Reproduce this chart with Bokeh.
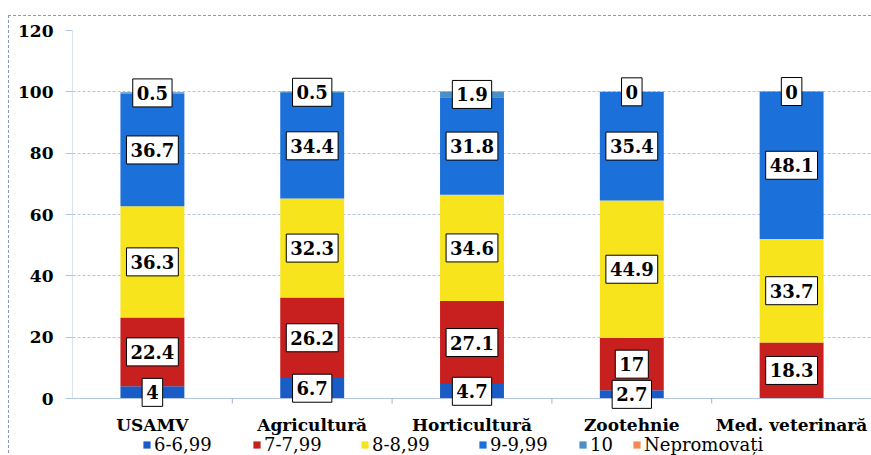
from bokeh.plotting import figure
from bokeh.models import (Label, Legend, LegendItem, FixedTicker, Range1d,
                          FactorRange)
from bokeh.core.properties import value
from bokeh.embed import file_html
from bokeh.resources import INLINE

categories = ["USAMV", "Agricultură", "Horticultură", "Zootehnie", "Med. veterinară"]
series = ["6-6,99", "7-7,99", "8-8,99", "9-9,99", "10", "Nepromovați"]
v_6 = [4, 6.7, 4.7, 2.7, 0]
v_7 = [22.4, 26.2, 27.1, 17, 18.3]
v_8 = [36.3, 32.3, 34.6, 44.9, 33.7]
v_9 = [36.7, 34.4, 31.8, 35.4, 48.1]
v_10 = [0.5, 0.5, 1.9, 0, 0]
v_nep = [0, 0, 0, 0, 0]
y_ticks = [0, 20, 40, 60, 80, 100, 120]
y_max = 120

values = [v_6, v_7, v_8, v_9, v_10, v_nep]
colors = ["#1a5cc6", "#c8201e", "#f7e41c", "#1b70da", "#4a90c6", "#f28c50"]
show_zero = [False, False, False, False, True, False]

FONT = "DejaVu Serif"
GRID = "#b3c5e3"
BORDER = "#8798c0"

# layout (pixels)
W, H = 871, 455
LEFT, TOP = 72, 30
ZERO_PX = 398           # canvas row of the value 0
px_per_unit = (ZERO_PX - TOP) / y_max
y_min = -(H - ZERO_PX) / px_per_unit

outer = ("repeating-linear-gradient(to bottom, %s 0 3px, transparent 3px 5px) "
         "8px 15px / 1px 100%% no-repeat, "
         "repeating-linear-gradient(to right, %s 0 3px, transparent 3px 5px) "
         "8px 15px / 100%% 1px no-repeat, white") % (BORDER, BORDER)

p = figure(x_range=FactorRange(*categories), y_range=Range1d(y_min, y_max),
           width=W, height=H, output_backend="svg", toolbar_location=None,
           min_border_left=LEFT, min_border_top=TOP, min_border_bottom=0,
           min_border_right=0,
           styles={"position": "absolute", "left": "0px", "top": "0px",
                   "background": outer})
p.border_fill_alpha = 0
p.background_fill_color = "white"

data = {"cat": categories}
for s, v in zip(series, values):
    data[s] = v
renderers = p.vbar_stack(series, x="cat", width=0.4, color=colors,
                         line_color=None, source=data)

# data labels
cum = [0.0] * len(categories)
for si, v in enumerate(values):
    for ci, val in enumerate(v):
        mid = cum[ci] + val / 2.0
        cum[ci] += val
        if val == 0 and not show_zero[si]:
            continue
        p.add_layout(Label(x=ci + 0.5, y=mid, text="%g" % val,
                           text_font=FONT, text_font_style="bold",
                           text_font_size="18px", text_color="black",
                           text_align="center", text_baseline="middle",
                           background_fill_color="white",
                           border_line_color="black", border_line_width=1,
                           padding=dict(x=4, y=7)))

# y axis
p.yaxis.ticker = FixedTicker(ticks=y_ticks)
p.yaxis.major_label_text_font = FONT
p.yaxis.major_label_text_font_style = "bold"
p.yaxis.major_label_text_font_size = "17px"
p.yaxis.major_label_text_color = "black"
p.yaxis.axis_line_color = None
p.yaxis.major_tick_line_color = GRID
p.yaxis.major_tick_out = 7
p.yaxis.major_tick_in = 0
p.yaxis.minor_tick_line_color = None
p.yaxis.major_label_standoff = 12
p.xaxis.visible = False

p.xgrid.grid_line_color = None
p.ygrid.grid_line_color = GRID
p.ygrid.grid_line_dash = "3 2"
p.outline_line_color = None

n = len(categories)
# plot-area left edge and category axis line (solid)
p.segment(x0=[0, 0], y0=[0, 0], x1=[0, n], y1=[y_max, 0],
          line_color=GRID, line_width=1)
# category boundary ticks
p.segment(x0=list(range(1, n)), y0=[0] * (n - 1), x1=list(range(1, n)),
          y1=[-5 / px_per_unit] * (n - 1), line_color="#9fb3d6", line_width=1)

# category labels
p.text(x=categories, y=[0] * n, text=categories, y_offset=26,
       text_font=value(FONT), text_font_style="bold", text_font_size="17px",
       text_color="black", text_align="center", text_baseline="middle")

# legend, one block per series to match the spacing
leg_x = [70, 180, 288, 406, 506, 560]
for s, r, lx in zip(series, renderers, leg_x):
    lg = Legend(items=[LegendItem(label=s, renderers=[r])],
                location=(lx, 0), orientation="horizontal",
                padding=0, margin=0, spacing=0,
                glyph_width=9, glyph_height=9, label_standoff=3,
                label_text_font=FONT, label_text_font_size="18px",
                label_text_color="black", label_height=18,
                border_line_color=None, background_fill_alpha=0)
    p.add_layout(lg, "center")

open("out.html", "w").write(file_html(p, INLINE))
